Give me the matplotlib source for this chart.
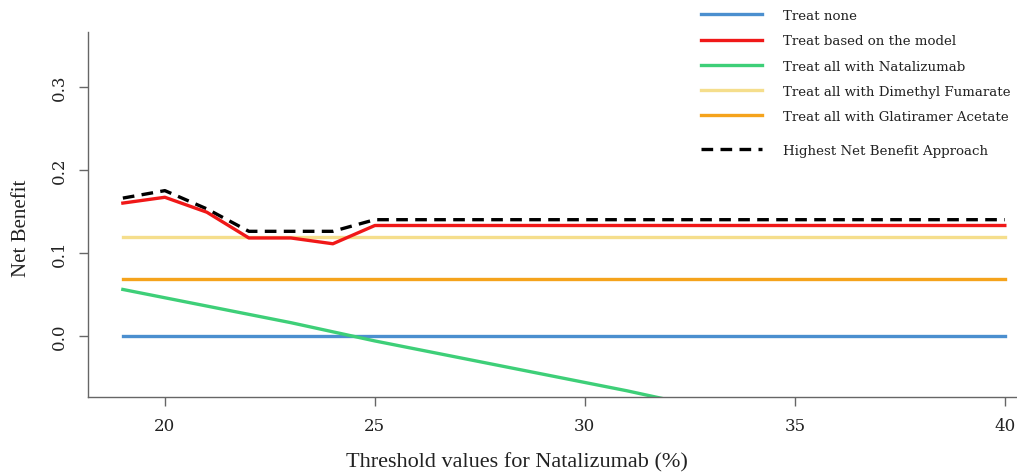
import matplotlib
matplotlib.use("Agg")
import matplotlib.pyplot as plt
import numpy as np

thresholds = [19, 20, 21, 22, 23, 24, 25, 26, 27, 28, 29, 30, 31, 32, 33, 34, 35, 36, 37, 38, 39, 40]
treat_none = [0.0] * 22
treat_model = [0.160, 0.167, 0.149, 0.118, 0.118, 0.111, 0.133, 0.133, 0.133, 0.133, 0.133,
               0.133, 0.133, 0.133, 0.133, 0.133, 0.133, 0.133, 0.133, 0.133, 0.133, 0.133]
treat_nat_x = [19, 20, 21, 22, 23, 24, 25, 26, 27, 28, 29, 30, 31, 32]
treat_nat = [0.056, 0.046, 0.036, 0.026, 0.016, 0.005, -0.006, -0.016, -0.026, -0.036,
             -0.046, -0.056, -0.066, -0.077]
treat_dmf = [0.119] * 22
treat_ga = [0.068] * 22
highest = [0.166, 0.175, 0.153, 0.126, 0.126, 0.126, 0.140, 0.140, 0.140, 0.140, 0.140,
           0.140, 0.140, 0.140, 0.140, 0.140, 0.140, 0.140, 0.140, 0.140, 0.140, 0.140]

labels = ["Treat none", "Treat based on the model", "Treat all with Natalizumab",
          "Treat all with Dimethyl Fumarate", "Treat all with Glatiramer Acetate",
          "Highest Net Benefit Approach"]
xticks = [20, 25, 30, 35, 40]
yticks = [0.0, 0.1, 0.2, 0.3]

fig = plt.figure(figsize=(10.17, 4.77), dpi=100)
ax = fig.add_axes([88/1017, 1-398/477, 1-88/1017, (398-33)/477])

lw = 2.4
h = []
h += ax.plot(thresholds, treat_none, color="#4b8fcf", lw=lw, label=labels[0])
h += ax.plot(thresholds, treat_model, color="#f01818", lw=lw, label=labels[1], zorder=4)
h += ax.plot(treat_nat_x, treat_nat, color="#3ecf78", lw=lw, label=labels[2])
h += ax.plot(thresholds, treat_dmf, color="#f5de8c", lw=lw, label=labels[3])
h += ax.plot(thresholds, treat_ga, color="#f5a31c", lw=lw, label=labels[4])
h += ax.plot(thresholds, highest, color="black", lw=lw, ls=(0, (3.5, 2.2)), label=labels[5], zorder=3)

ax.set_xlim(18.17, 40.29)
ax.set_ylim(-0.0735, 0.366)
for s in ["top", "right"]:
    ax.spines[s].set_visible(False)
for s in ["left", "bottom"]:
    ax.spines[s].set_color("#666666")
    ax.spines[s].set_linewidth(1.0)

ax.set_xticks(xticks)
ax.set_xticklabels([str(t) for t in xticks], fontfamily="DejaVu Serif", fontsize=12)
ax.set_yticks(yticks)
ax.set_yticklabels([f"{t:.1f}" for t in yticks], fontfamily="DejaVu Serif", fontsize=12,
                   rotation=90, va="center")
ax.tick_params(axis="both", direction="out", length=6.5, width=1.0, color="#666666",
               colors="#222222")
ax.tick_params(axis="x", pad=8)
ax.tick_params(axis="y", pad=8)

ax.set_xlabel("Threshold values for Natalizumab (%)", fontfamily="Liberation Serif",
              fontsize=16, color="#222222", va="center")
ax.xaxis.set_label_coords((517 - 88) / (1017 - 88), -(463 - 398) / 365)
ax.set_ylabel("Net Benefit", fontfamily="Liberation Serif", fontsize=15,
              color="#222222", va="center")
ax.yaxis.set_label_coords(-(88 - 22) / (1017 - 88), (398 - 228) / 365)

prop = {"family": "DejaVu Serif", "size": 9.6}
leg = fig.legend(handles=h[:5], loc="upper left", bbox_to_anchor=(689/1017, 1+2/477),
                 frameon=False, prop=prop, handlelength=4.6, handletextpad=1.55,
                 labelspacing=0.92)
leg2 = fig.legend(handles=h[5:], loc="upper left", bbox_to_anchor=(689/1017, 1-133/477),
                  frameon=False, prop=prop, handlelength=4.6, handletextpad=1.55)
for lg in (leg, leg2):
    for t in lg.get_texts():
        t.set_color("#222222")

fig.savefig("out.png", dpi=100)
